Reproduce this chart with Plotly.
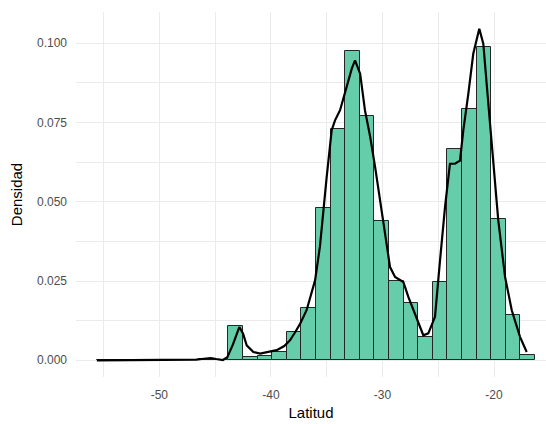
import plotly.graph_objects as go

# Histogram of latitudes (density scale): 30 bins of equal width
bin_left_edge = -55.6
bin_width = 1.309
bin_density = [
    0.0001, 0.0, 0.0, 0.0, 0.0, 0.0, 0.0, 0.0004, 0.0001, 0.0108,
    0.0011, 0.0013, 0.0026, 0.0089, 0.0166, 0.0479, 0.0729, 0.0976, 0.0770, 0.0438,
    0.0249, 0.0181, 0.0074, 0.0247, 0.0668, 0.0793, 0.0988, 0.0445, 0.0144, 0.0018,
]

# Kernel density estimate of the same sample
kde_lat = [
    -55.6, -52.0, -48.0, -46.7, -46.2, -45.4, -44.9, -44.3, -43.9, -43.4,
    -42.83, -42.5, -42.17, -41.57, -40.97, -40.2, -39.48, -38.8, -38.29, -37.8,
    -37.37, -36.8, -36.04, -35.6, -35.3, -35.0, -34.55, -34.25, -33.8, -33.2,
    -32.75, -32.46, -32.0, -31.57, -31.1, -30.66, -30.21, -29.76, -29.32, -28.87,
    -28.13, -27.68, -27.08, -26.63, -26.34, -25.89, -25.29, -24.84, -24.39, -23.95,
    -23.5, -23.05, -22.75, -22.3, -21.86, -21.32, -20.96, -20.51, -20.06, -19.62,
    -19.01, -18.41, -17.67, -17.07,
]
kde_density = [
    0.0, 0.00003, 0.0001, 0.0002, 0.0004, 0.0007, 0.0004, 0.0001, 0.0010, 0.0050,
    0.0105, 0.0085, 0.0047, 0.0026, 0.0021, 0.0026, 0.0032, 0.0045, 0.0063, 0.0090,
    0.0116, 0.0158, 0.0252, 0.0360, 0.0473, 0.0578, 0.0726, 0.0757, 0.0789, 0.0862,
    0.0920, 0.0946, 0.0904, 0.0789, 0.0705, 0.0610, 0.0505, 0.0389, 0.0294, 0.0263,
    0.0247, 0.0200, 0.0147, 0.0105, 0.0079, 0.0085, 0.0137, 0.0315, 0.0484, 0.0620,
    0.0620, 0.0630, 0.0726, 0.0841, 0.0967, 0.1046, 0.0999, 0.0810, 0.0630, 0.0442,
    0.0263, 0.0158, 0.0074, 0.0026,
]

x_ticks = [-50, -40, -30, -20]
y_ticks = [0.0, 0.025, 0.05, 0.075, 0.1]

bin_centers = [bin_left_edge + bin_width * (i + 0.5) for i in range(len(bin_density))]

fig = go.Figure()
fig.add_trace(go.Bar(
    x=bin_centers,
    y=bin_density,
    width=bin_width,
    marker=dict(color="#66CDAA", line=dict(color="#262626", width=1)),
    hoverinfo="x+y",
))
fig.add_trace(go.Scatter(
    x=kde_lat,
    y=kde_density,
    mode="lines",
    line=dict(color="black", width=2.2),
))

grid = "#EBEBEB"
font_family = "Liberation Sans, Arial, sans-serif"

fig.update_layout(
    width=546,
    height=424,
    margin=dict(l=76, r=0, t=12, b=47),
    paper_bgcolor="white",
    plot_bgcolor="white",
    showlegend=False,
    bargap=0,
    font=dict(family=font_family),
    xaxis=dict(
        range=[-57.47, -15.34],
        tickvals=x_ticks,
        ticktext=[str(v) for v in x_ticks],
        showgrid=True,
        gridcolor=grid,
        gridwidth=1.1,
        minor=dict(dtick=5, tick0=0, showgrid=True, gridcolor=grid, gridwidth=0.6),
        zeroline=False,
        showline=False,
        ticks="",
        ticklabelstandoff=9,
        tickfont=dict(size=12, color="#4D4D4D"),
        title=dict(text="Latitud", font=dict(size=15, color="black"), standoff=6),
    ),
    yaxis=dict(
        range=[-0.00527, 0.10987],
        tickvals=y_ticks,
        ticktext=[f"{v:.3f}" for v in y_ticks],
        showgrid=True,
        gridcolor=grid,
        gridwidth=1.1,
        minor=dict(dtick=0.0125, tick0=0, showgrid=True, gridcolor=grid, gridwidth=0.6),
        zeroline=False,
        showline=False,
        ticks="",
        ticklabelstandoff=8,
        tickfont=dict(size=12, color="#4D4D4D"),
        title=dict(text="Densidad", font=dict(size=15, color="black"), standoff=10),
    ),
)

fig.write_html("out.html")
